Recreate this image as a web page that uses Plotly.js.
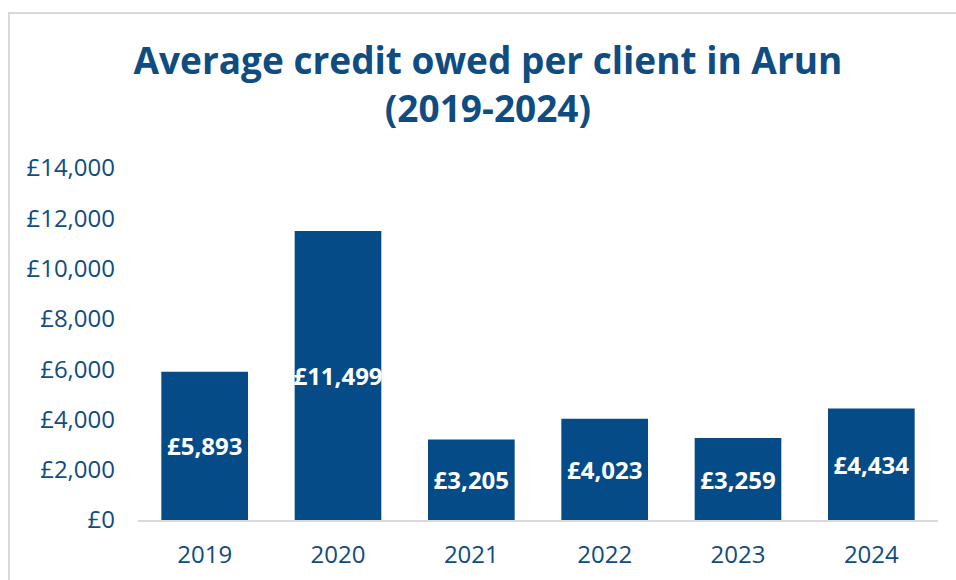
<!DOCTYPE html>
<html>
<head>
<meta charset="utf-8">
<script src="https://cdn.plot.ly/plotly-3.0.1.min.js"></script>
<style>
html,body{margin:0;padding:0;width:956px;height:580px;overflow:hidden;background:#fff;}
#frame{position:absolute;left:8px;top:12px;width:1000px;height:1000px;border-left:2px solid #d9d9d9;border-top:2px solid #d9d9d9;}
#chart{position:absolute;left:0;top:0;width:956px;height:580px;}
</style>
</head>
<body>
<div id="frame"></div>
<div id="chart"></div>
<script>
const years = ['2019','2020','2021','2022','2023','2024'];
const avgCredit = [5893, 11499, 3205, 4023, 3259, 4434];
const yTicks = [0, 2000, 4000, 6000, 8000, 10000, 12000, 14000];

const fmt = v => '£' + v.toLocaleString('en-GB');
const labels = avgCredit.map(fmt);
const yTickText = yTicks.map(fmt);
const blue = '#044b87';
const textBlue = '#0f4c81';

Plotly.newPlot('chart', [{
  type: 'bar',
  x: years,
  y: avgCredit,
  marker: {color: blue},
  text: labels,
  textposition: 'inside',
  insidetextanchor: 'middle',
  constraintext: 'none',
  textangle: 0,
  textfont: {family: 'Open Sans', size: 24, color: '#ffffff', weight: 700},
  hoverinfo: 'none'
}], {
  width: 956, height: 580,
  paper_bgcolor: 'rgba(0,0,0,0)',
  plot_bgcolor: 'rgba(0,0,0,0)',
  margin: {l: 138, r: 18, t: 168, b: 60},
  bargap: 0.35,
  showlegend: false,
  title: {
    text: 'Average credit owed per client in Arun<br>(2019-2024)',
    font: {family: 'Open Sans', size: 37, color: textBlue, weight: 700},
    x: 0.5104, xref: 'container', xanchor: 'center',
    y: 0.873, yref: 'container', yanchor: 'middle'
  },
  xaxis: {
    type: 'category',
    showgrid: false,
    showline: true, linecolor: '#d9d9d9', linewidth: 2,
    ticks: '',
    tickfont: {family: 'Open Sans', size: 24, color: textBlue},
    ticklabelstandoff: 12
  },
  yaxis: {
    range: [0, 14000],
    tickmode: 'array',
    tickvals: yTicks,
    ticktext: yTickText,
    showgrid: false,
    zeroline: false,
    showline: false,
    ticks: '',
    tickfont: {family: 'Open Sans', size: 24, color: textBlue},
    ticklabelstandoff: 22
  }
}, {displayModeBar: false, staticPlot: true});
</script>
</body>
</html>
